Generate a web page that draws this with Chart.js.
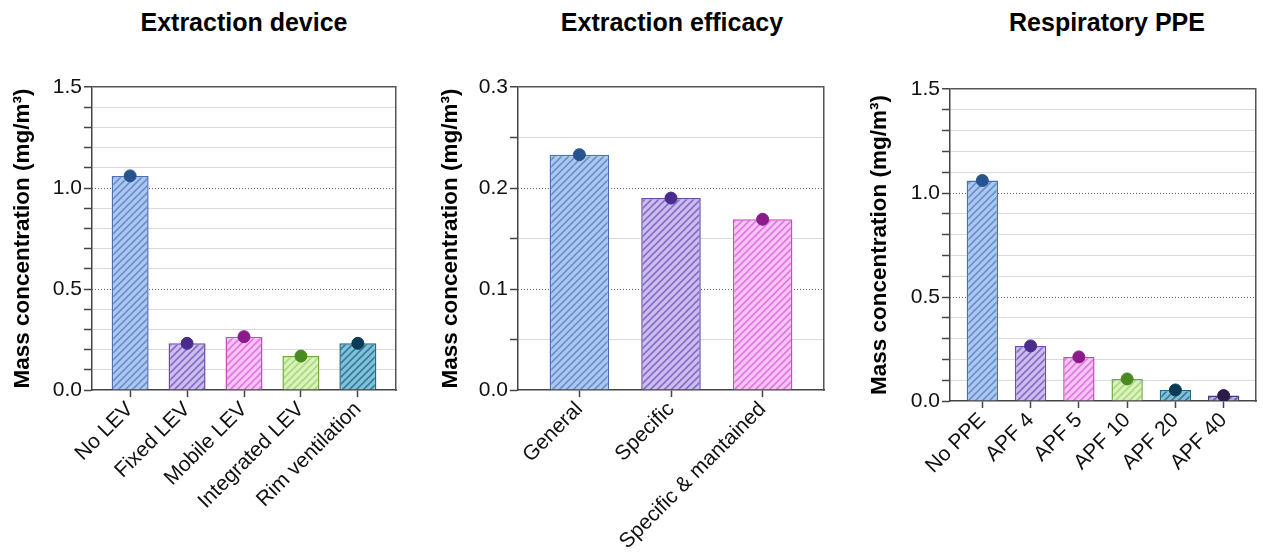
<!DOCTYPE html>
<html>
<head>
<meta charset="utf-8">
<script src="https://cdn.jsdelivr.net/npm/chart.js@4"></script>
<style>
  body { margin: 0; background: #fff; width: 1263px; height: 559px; position: relative; overflow: hidden;
         font-family: "Liberation Sans", Arial, sans-serif; }
  .title { position: absolute; top: 8px; width: 400px; text-align: center; font-weight: bold;
           font-size: 25px; line-height: 28px; color: #000; }
  canvas { position: absolute; top: 60px; }
</style>
</head>
<body>
<div class="title" style="left:44px">Extraction device</div>
<div class="title" style="left:472px">Extraction efficacy</div>
<div class="title" style="left:907px">Respiratory PPE</div>
<canvas id="device" width="420" height="499" style="left:0"></canvas>
<canvas id="efficacy" width="420" height="499" style="left:420px"></canvas>
<canvas id="ppe" width="423" height="499" style="left:840px"></canvas>
<script>
// data
var deviceLabels = ['No LEV', 'Fixed LEV', 'Mobile LEV', 'Integrated LEV', 'Rim ventilation'];
var deviceValues = [1.06, 0.231, 0.264, 0.168, 0.231];

var efficacyLabels = ['General', 'Specific', 'Specific & mantained'];
var efficacyValues = [0.233, 0.190, 0.169];

var ppeLabels = ['No PPE', 'APF 4', 'APF 5', 'APF 10', 'APF 20', 'APF 40'];
var ppeValues = [1.06, 0.265, 0.212, 0.106, 0.053, 0.026];

// styles: [fill, stripe, border, dot]
var blue   = ['#adc8ef', '#6a8fd0', '#4a70b6', '#27538f'];
var purple = ['#ccbdef', '#876dc6', '#6a50aa', '#4a2b8e'];
var pink   = ['#f8c4f8', '#e078e0', '#c150c1', '#8b1a8b'];
var green  = ['#dbf2bd', '#a8db7c', '#72aa42', '#4a8a22'];
var teal   = ['#86c0d7', '#2f7f9f', '#216b89', '#0b3c56'];
var dark   = ['#bcacdf', '#6f5dab', '#4b3b82', '#2b1b49'];

Chart.defaults.font.family = '"Liberation Sans", Arial, sans-serif';
Chart.defaults.color = '#111';

var patCtx = document.createElement('canvas').getContext('2d');
function hatch(fill, stripe) {
    var c = document.createElement('canvas');
    c.width = 7; c.height = 7;
    var g = c.getContext('2d');
    g.fillStyle = fill;
    g.fillRect(0, 0, 7, 7);
    g.strokeStyle = stripe;
    g.lineWidth = 1.6;
    g.beginPath();
    g.moveTo(-1, 8); g.lineTo(8, -1);
    g.moveTo(-1, 1); g.lineTo(1, -1);
    g.moveTo(6, 8); g.lineTo(8, 6);
    g.stroke();
    return patCtx.createPattern(c, 'repeat');
}

function makeChart(id, labels, values, styles, o) {
    var isMajor = function (v) { return Math.abs(v / o.major - Math.round(v / o.major)) < 1e-6; };
    var pts = values.map(function (v, i) { return {x: i, y: v}; });
    return new Chart(document.getElementById(id).getContext('2d'), {
        type: 'bar',
        data: {
            datasets: [{
                type: 'scatter',
                data: pts,
                backgroundColor: styles.map(function (s) { return s[3]; }),
                borderColor: styles.map(function (s) { return s[3]; }),
                pointRadius: 6,
                pointHoverRadius: 6,
                order: 1
            }, {
                type: 'bar',
                data: pts,
                backgroundColor: styles.map(function (s) { return hatch(s[0], s[1]); }),
                borderColor: styles.map(function (s) { return s[2]; }),
                borderWidth: 1.5,
                categoryPercentage: 1,
                barPercentage: 0.65,
                order: 2
            }]
        },
        options: {
            responsive: false,
            animation: false,
            layout: { padding: { left: o.padLeft, right: o.padRight, top: o.padTop, bottom: 0 } },
            plugins: { legend: { display: false }, tooltip: { enabled: false } },
            scales: {
                x: {
                    type: 'linear',
                    offset: false,
                    min: -0.67,
                    max: labels.length - 1 + 0.67,
                    afterBuildTicks: function (s) { s.ticks = labels.map(function (l, i) { return {value: i}; }); },
                    afterFit: function (s) { s.height = o.xHeight; },
                    ticks: {
                        autoSkip: false, minRotation: 45, maxRotation: 45, padding: 0,
                        color: '#111', font: { size: 21 },
                        callback: function (v) { return labels[v]; }
                    },
                    grid: { offset: false, drawOnChartArea: false, tickLength: 7, tickColor: '#444', tickWidth: 1.5 },
                    border: { color: '#444', width: 1.5 }
                },
                y: {
                    min: 0,
                    max: o.max,
                    afterFit: function (s) { s.width = o.yWidth; },
                    ticks: {
                        stepSize: o.minor, autoSkip: false, padding: 2,
                        color: '#111', font: { size: 21 },
                        callback: function (v) { return isMajor(v) ? v.toFixed(1) : ''; }
                    },
                    grid: {
                        color: function (c) {
                            var v = c.tick.value;
                            if (Math.abs(v - o.max) < 1e-9) return '#555';
                            return isMajor(v) ? 'rgba(0,0,0,0)' : '#dadada';
                        },
                        lineWidth: function (c) { return Math.abs(c.tick.value - o.max) < 1e-9 ? 1.5 : 1; },
                        tickLength: 8, tickColor: '#444', tickWidth: 1.5
                    },
                    border: { color: '#444', width: 1.5 },
                    title: {
                        display: true, text: 'Mass concentration (mg/m³)', color: '#000',
                        font: { size: 22.5, weight: 'bold' }, padding: { top: 0, bottom: 4 }
                    }
                },
                y2: {
                    position: 'right',
                    min: 0,
                    max: o.max,
                    afterFit: function (s) { s.width = 0; },
                    ticks: { display: false, stepSize: o.major },
                    grid: {
                        drawTicks: false, lineWidth: 1,
                        color: function (c) {
                            var v = c.tick.value;
                            return (v > 1e-9 && v < o.max - 1e-9) ? '#666' : 'rgba(0,0,0,0)';
                        }
                    },
                    border: { display: true, color: '#555', width: 1.5, dash: [1, 2] }
                }
            }
        }
    });
}

makeChart('device', deviceLabels, deviceValues, [blue, purple, pink, green, teal],
    { max: 1.5, minor: 0.1, major: 0.5, padLeft: 9, padRight: 24, padTop: 27, yWidth: 83, xHeight: 169 });
makeChart('efficacy', efficacyLabels, efficacyValues, [blue, purple, pink],
    { max: 0.3, minor: 0.05, major: 0.1, padLeft: 17, padRight: 16, padTop: 27, yWidth: 81, xHeight: 169 });
makeChart('ppe', ppeLabels, ppeValues, [blue, purple, pink, green, teal, dark],
    { max: 1.5, minor: 0.1, major: 0.5, padLeft: 26, padRight: 1, padTop: 29, yWidth: 84, xHeight: 158 });
</script>
</body>
</html>
